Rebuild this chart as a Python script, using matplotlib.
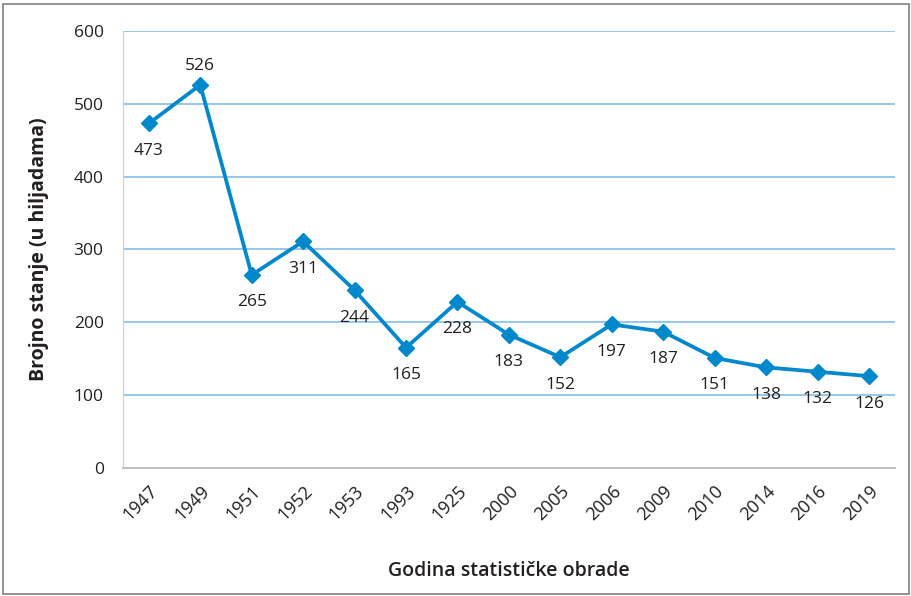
import matplotlib.pyplot as plt
from matplotlib.patches import Rectangle

years = ['1947', '1949', '1951', '1952', '1953', '1993', '1925', '2000',
         '2005', '2006', '2009', '2010', '2014', '2016', '2019']
values = [473, 526, 265, 311, 244, 165, 228, 183, 152, 197, 187, 151, 138, 132, 126]
label_above = [False, True] + [False] * 13

plt.rcParams['font.family'] = ['Open Sans', 'DejaVu Sans']

fig = plt.figure(figsize=(9.12, 5.96), dpi=100)
ax = fig.add_axes([0.135, 0.215, 0.846, 0.733])

blue = '#0088cc'
x = list(range(len(years)))
ax.plot(x, values, color=blue, lw=2.7, marker='D', markersize=8.5, zorder=3)

for xi, v, up in zip(x, values, label_above):
    if up:
        ax.annotate(str(v), (xi, v), xytext=(0, 8), textcoords='offset points',
                    ha='center', va='bottom', fontsize=12.5, color='#231f20')
    else:
        ax.annotate(str(v), (xi, v), xytext=(0, -14), textcoords='offset points',
                    ha='center', va='top', fontsize=12.5, color='#231f20')

ax.set_xlim(-0.5, len(years) - 0.5)
ax.set_ylim(0, 600)
ax.set_yticks(range(0, 601, 100))
ax.set_xticks(x)
ax.set_xticklabels(years, rotation=45, ha='right', rotation_mode='anchor')
ax.tick_params(axis='both', length=0, labelsize=12.5, colors='#231f20')
ax.tick_params(axis='x', labelsize=13, pad=10)
ax.tick_params(axis='y', pad=14)
ax.yaxis.grid(True, color='#8fc3e8', lw=1.3)
ax.set_axisbelow(True)
for s in ['top', 'right']:
    ax.spines[s].set_visible(False)
ax.spines['left'].set_color('#d0d0d0')
ax.spines['bottom'].set_color('#bdbdbd')
ax.spines['bottom'].set_linewidth(1.3)

ax.set_ylabel('Brojno stanje (u hiljadama)', fontsize=14, fontweight='bold',
              color='#231f20', labelpad=18)
ax.set_xlabel('Godina statističke obrade', fontsize=14, fontweight='semibold',
              color='#231f20', labelpad=27)

fig.patches.append(Rectangle((0.003, 0.004), 0.994, 0.99, transform=fig.transFigure,
                             fill=False, edgecolor='#8a8a8a', lw=1.3))

fig.savefig('out.png', dpi=100)
